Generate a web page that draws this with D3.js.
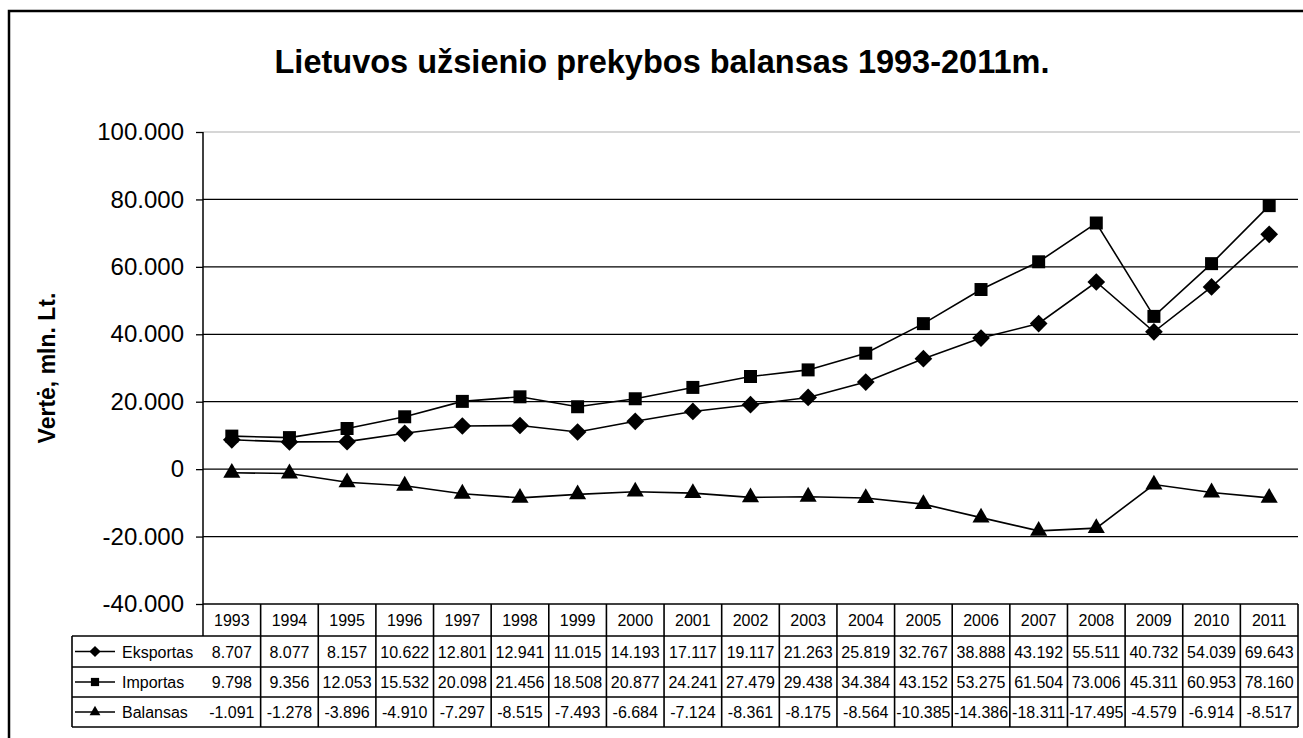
<!DOCTYPE html>
<html>
<head>
<meta charset="utf-8">
<script src="https://cdn.jsdelivr.net/npm/d3@7"></script>
<style>
  html, body { margin: 0; background: #fff; overflow: hidden; }
  svg { display: block; }
  svg text { font-family: "Liberation Sans", Arial, sans-serif; fill: #000; }
</style>
</head>
<body>
<div id="container"></div>
<script>
// data (mln. Lt.)
const years = ["1993","1994","1995","1996","1997","1998","1999","2000","2001","2002","2003","2004","2005","2006","2007","2008","2009","2010","2011"];
const eksportas = [8707, 8077, 8157, 10622, 12801, 12941, 11015, 14193, 17117, 19117, 21263, 25819, 32767, 38888, 43192, 55511, 40732, 54039, 69643];
const importas = [9798, 9356, 12053, 15532, 20098, 21456, 18508, 20877, 24241, 27479, 29438, 34384, 43152, 53275, 61504, 73006, 45311, 60953, 78160];
const balansas = [-1091, -1278, -3896, -4910, -7297, -8515, -7493, -6684, -7124, -8361, -8175, -8564, -10385, -14386, -18311, -17495, -4579, -6914, -8517];
const yTicks = [-40000, -20000, 0, 20000, 40000, 60000, 80000, 100000];

const seriesList = [
    {name: "Eksportas", values: eksportas, symbol: d3.symbolDiamond2, size: 200},
    {name: "Importas", values: importas, symbol: d3.symbolSquare2, size: 215},
    {name: "Balansas", values: balansas, symbol: d3.symbolTriangle2, size: 210}
];

const W = 1303, H = 738;
const plot = {left: 203, right: 1298, top: 132, bottom: 604};
const tableLeft = 72;
const rowEdges = [604, 636, 667, 697, 727];

const lt = d3.formatLocale({decimal: ",", thousands: ".", grouping: [3], currency: ["", ""], minus: "-"});
const fmt = lt.format(",d");

const svg = d3.select("#container").append("svg")
    .attr("width", W).attr("height", H);

// outer frame (only left + top fall inside the picture)
svg.append("path")
    .attr("d", `M9,${H + 20}V11H${W + 20}`)
    .attr("fill", "none").attr("stroke", "#000").attr("stroke-width", 2.5);

svg.append("text")
    .attr("x", 662).attr("y", 73)
    .attr("text-anchor", "middle")
    .style("font-size", "32.5px").style("font-weight", "bold")
    .text("Lietuvos užsienio prekybos balansas 1993-2011m.");

const x = d3.scaleBand().domain(years).range([plot.left, plot.right]);
const y = d3.scaleLinear().domain([-40000, 100000]).range([plot.bottom, plot.top]);
const cx = d => x(d) + x.bandwidth() / 2;

// grid lines
svg.append("g")
    .selectAll("line")
    .data(yTicks)
    .join("line")
        .attr("x1", plot.left).attr("x2", d => d === 100000 ? 1300 : plot.right)
        .attr("y1", d => y(d)).attr("y2", d => y(d))
        .attr("stroke", d => d === 100000 ? "#c8c8c8" : "#000")
        .attr("stroke-width", d => d === 100000 ? 1.5 : 1.3);

// y axis
const yAxis = d3.axisLeft(y).tickValues(yTicks).tickSize(7).tickPadding(12).tickFormat(fmt);
const ga = svg.append("g")
    .attr("transform", `translate(${plot.left},0)`)
    .call(yAxis);
ga.select(".domain").remove();
ga.selectAll(".tick line").attr("stroke", "#000").attr("stroke-width", 1.3);
ga.selectAll(".tick text").style("font-size", "24px").attr("font-family", null);
ga.append("line")
    .attr("x1", 0).attr("x2", 0)
    .attr("y1", plot.top).attr("y2", rowEdges[1])
    .attr("stroke", "#000").attr("stroke-width", 1.5);

svg.append("text")
    .attr("transform", "translate(55,368) rotate(-90)")
    .attr("text-anchor", "middle")
    .style("font-size", "23px").style("font-weight", "bold")
    .text("Vertė, mln. Lt.");

// lines + markers
const line = d3.line()
    .x((d, i) => cx(years[i]))
    .y(d => y(d));

seriesList.forEach(function (s) {
    svg.append("path")
        .datum(s.values)
        .attr("d", line)
        .attr("fill", "none").attr("stroke", "#000").attr("stroke-width", 1.6);
    svg.append("g")
        .selectAll("path")
        .data(s.values)
        .join("path")
            .attr("d", d3.symbol().type(s.symbol).size(s.size))
            .attr("transform", (d, i) => `translate(${cx(years[i])},${y(d)})`)
            .attr("fill", "#000");
});

// data table
const tbl = svg.append("g");

// header verticals + years
years.forEach(function (yr) {
    tbl.append("line")
        .attr("x1", x(yr) + x.bandwidth()).attr("x2", x(yr) + x.bandwidth())
        .attr("y1", rowEdges[0]).attr("y2", rowEdges[4])
        .attr("stroke", "#000").attr("stroke-width", 1.6);
    tbl.append("text")
        .attr("x", cx(yr)).attr("y", (rowEdges[0] + rowEdges[1]) / 2 + 6)
        .attr("text-anchor", "middle")
        .style("font-size", "16px")
        .text(yr);
});

// row lines
rowEdges.slice(1).forEach(function (ry) {
    tbl.append("line")
        .attr("x1", tableLeft).attr("x2", plot.right)
        .attr("y1", ry).attr("y2", ry)
        .attr("stroke", "#000").attr("stroke-width", 1.6);
});
tbl.append("line")
    .attr("x1", tableLeft).attr("x2", tableLeft)
    .attr("y1", rowEdges[1]).attr("y2", rowEdges[4])
    .attr("stroke", "#000").attr("stroke-width", 1.6);

seriesList.forEach(function (s, r) {
    const mid = (rowEdges[r + 1] + rowEdges[r + 2]) / 2;
    tbl.append("line")
        .attr("x1", 75).attr("x2", 115)
        .attr("y1", mid).attr("y2", mid)
        .attr("stroke", "#000").attr("stroke-width", 1.5);
    tbl.append("path")
        .attr("d", d3.symbol().type(s.symbol).size(s.size * 0.4))
        .attr("transform", `translate(95,${mid})`)
        .attr("fill", "#000");
    tbl.append("text")
        .attr("x", 122).attr("y", mid + 6)
        .style("font-size", "16px")
        .text(s.name);
    tbl.selectAll(null)
        .data(s.values)
        .join("text")
            .attr("x", (d, i) => cx(years[i]))
            .attr("y", mid + 6)
            .attr("text-anchor", "middle")
            .style("font-size", "16px")
            .text(d => fmt(d));
});
</script>
</body>
</html>
